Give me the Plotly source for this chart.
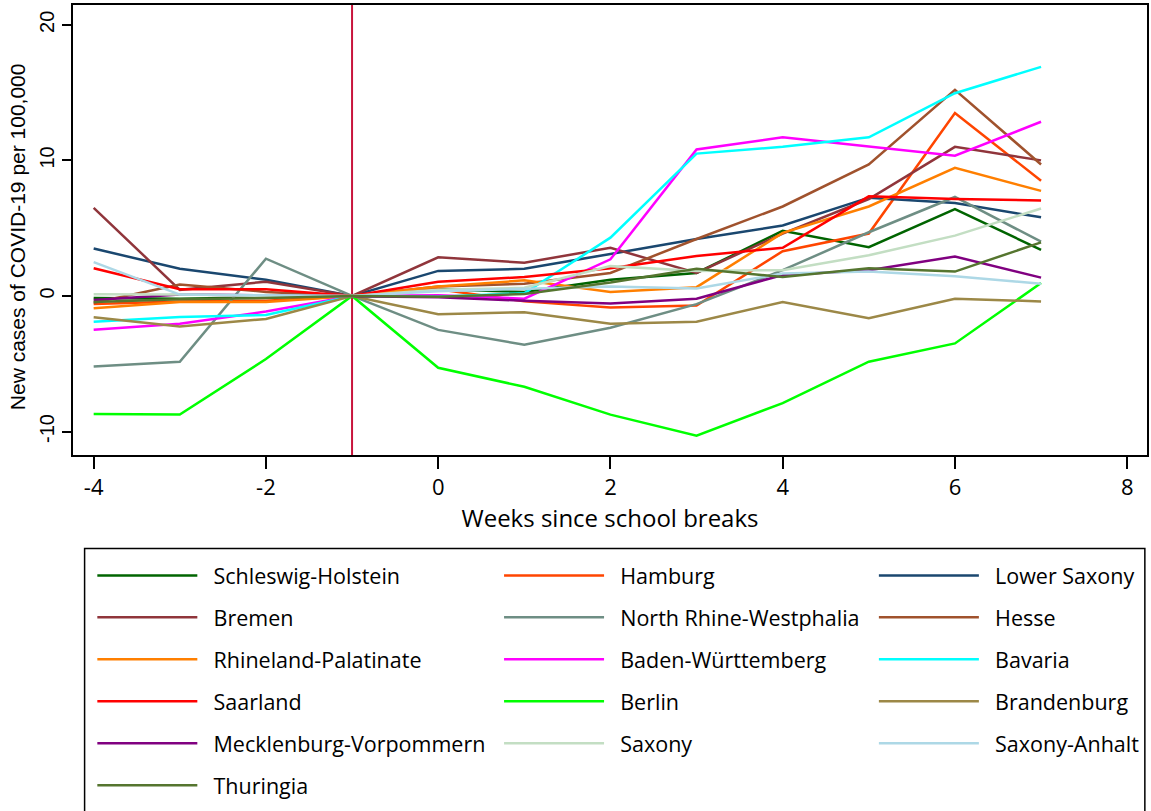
import plotly.graph_objects as go

# Weeks relative to the school break (week -1 is the reference week)
weeks = [-4, -3, -2, -1, 0, 1, 2, 3, 4, 5, 6, 7]

# Axis ticks
x_ticks = [-4, -2, 0, 2, 4, 6, 8]
x_tick_labels = ["-4", "-2", "0", "2", "4", "6", "8"]
y_ticks = [-10, 0, 10, 20]
y_tick_labels = ["-10", "0", "10", "20"]

# Change in new COVID-19 cases per 100,000 relative to week -1, by federal state
schleswig_holstein = [-0.15, -0.2, -0.1, 0, 0.5, 0.3, 1.2, 1.7, 4.8, 3.6, 6.4, 3.4]
hamburg = [-0.6, -0.4, -0.35, 0, 0.5, -0.4, -0.85, -0.7, 3.3, 4.6, 13.5, 8.5]
lower_saxony = [3.5, 2.0, 1.2, 0, 1.85, 2.0, 3.1, 4.2, 5.2, 7.25, 6.85, 5.8]
bremen = [6.5, 0.45, 1.05, 0, 2.85, 2.45, 3.55, 1.7, 4.6, 7.15, 11.0, 10.0]
nrw = [-5.2, -4.85, 2.75, 0, -2.5, -3.6, -2.35, -0.6, 1.9, 4.7, 7.3, 4.0]
hesse = [-0.5, 0.85, 0.3, 0, 0.7, 0.9, 1.7, 4.2, 6.6, 9.7, 15.2, 9.7]
rhineland_palatinate = [-0.9, -0.45, -0.45, 0, 0.7, 1.15, 0.3, 0.65, 4.65, 6.6, 9.45, 7.75]
baden_wuerttemberg = [-2.5, -2.05, -1.15, 0, 0.05, -0.2, 2.7, 10.8, 11.7, 11.05, 10.35, 12.85]
bavaria = [-1.9, -1.55, -1.4, 0, -0.05, 0.2, 4.3, 10.5, 11.0, 11.7, 14.95, 16.9]
saarland = [2.05, 0.5, 0.5, 0, 1.05, 1.4, 2.05, 2.95, 3.55, 7.35, 7.15, 7.05]
berlin = [-8.7, -8.75, -4.65, 0, -5.3, -6.7, -8.75, -10.3, -7.9, -4.85, -3.5, 0.95]
brandenburg = [-1.57, -2.25, -1.7, 0, -1.35, -1.2, -2.05, -1.9, -0.45, -1.65, -0.2, -0.4]
mecklenburg_vorpommern = [-0.3, 0.1, 0.05, 0, -0.1, -0.35, -0.55, -0.2, 1.55, 1.9, 2.9, 1.35]
saxony = [0.12, 0.1, 0.0, 0, 0.45, 0.6, 2.2, 1.85, 1.9, 3.0, 4.45, 6.45]
saxony_anhalt = [2.5, 0.1, 0.05, 0, 0.35, 0.55, 0.7, 0.55, 1.65, 1.8, 1.45, 0.9]
thuringia = [-0.45, -0.25, -0.15, 0, -0.05, 0.15, 1.0, 2.0, 1.4, 2.05, 1.8, 3.95]

states = [
    ("Schleswig-Holstein", schleswig_holstein, "#006400"),
    ("Hamburg", hamburg, "#FF4500"),
    ("Lower Saxony", lower_saxony, "#1A476F"),
    ("Bremen", bremen, "#90353B"),
    ("North Rhine-Westphalia", nrw, "#6E8E84"),
    ("Hesse", hesse, "#A0522D"),
    ("Rhineland-Palatinate", rhineland_palatinate, "#FF7F00"),
    ("Baden-Württemberg", baden_wuerttemberg, "#FF00FF"),
    ("Bavaria", bavaria, "#00FFFF"),
    ("Saarland", saarland, "#FF0000"),
    ("Berlin", berlin, "#00FF00"),
    ("Brandenburg", brandenburg, "#9C8847"),
    ("Mecklenburg-Vorpommern", mecklenburg_vorpommern, "#800080"),
    ("Saxony", saxony, "#C3DEC3"),
    ("Saxony-Anhalt", saxony_anhalt, "#ADD8E6"),
    ("Thuringia", thuringia, "#55752F"),
]

NARROW = "Liberation Sans Narrow, Open Sans, sans-serif"
REGULAR = "Liberation Sans, Arial, sans-serif"

fig = go.Figure()
legend_ids = ["legend", "legend2", "legend3"]
for i, (name, vals, color) in enumerate(states):
    fig.add_trace(go.Scatter(
        x=weeks, y=vals, mode="lines",
        name="\u00a0\u00a0" + name,
        line=dict(color=color, width=2.5),
        legend=legend_ids[i % 3], legendgroup=name,
    ))

# reference line at the last week before the break
fig.add_vline(x=-1, line=dict(color="#C8143C", width=2), layer="below")

# outer box around the three legend columns
fig.add_shape(type="rect", xref="paper", yref="paper",
              x0=0.0108, x1=0.998, y0=-0.80, y1=-0.208,
              line=dict(color="black", width=1.5), fillcolor="rgba(0,0,0,0)")

# y-axis title placed as a rotated annotation
fig.add_annotation(
    text="New cases of COVID-19 per 100,000", textangle=-90,
    xref="paper", yref="paper", x=0, y=0.484, xshift=-56,
    xanchor="center", yanchor="middle", showarrow=False,
    font=dict(family=REGULAR, size=21, color="black"),
)

legend_common = dict(
    orientation="v", xanchor="left", yanchor="top", y=-0.222,
    bgcolor="rgba(0,0,0,0)", borderwidth=0,
    font=dict(family=NARROW, size=21.5, color="black"),
    itemwidth=100, traceorder="grouped", tracegroupgap=11,
)

fig.update_layout(
    width=1151, height=811,
    margin=dict(l=73, r=2, t=5, b=356),
    paper_bgcolor="white", plot_bgcolor="white",
    showlegend=True,
    legend=dict(legend_common, x=0.018),
    legend2=dict(legend_common, x=0.3967),
    legend3=dict(legend_common, x=0.7457),
    xaxis=dict(
        range=[-4.24, 8.23], tickvals=x_ticks, ticktext=x_tick_labels,
        showgrid=False, zeroline=False,
        showline=True, linecolor="black", linewidth=2, mirror=True,
        ticks="outside", ticklen=12, tickwidth=1.5, tickcolor="black",
        tickfont=dict(family=NARROW, size=22, color="black"),
        title=dict(text="Weeks since school breaks",
                   font=dict(family=NARROW, size=24, color="black"), standoff=6),
    ),
    yaxis=dict(
        range=[-11.73, 21.46], tickvals=y_ticks, ticktext=y_tick_labels,
        showgrid=False, zeroline=False,
        showline=True, linecolor="black", linewidth=2, mirror=True,
        ticks="outside", ticklen=9, tickwidth=1.5, tickcolor="black",
        tickangle=-90,
        tickfont=dict(family=REGULAR, size=20, color="black"),
    ),
)

fig.write_html("out.html")
